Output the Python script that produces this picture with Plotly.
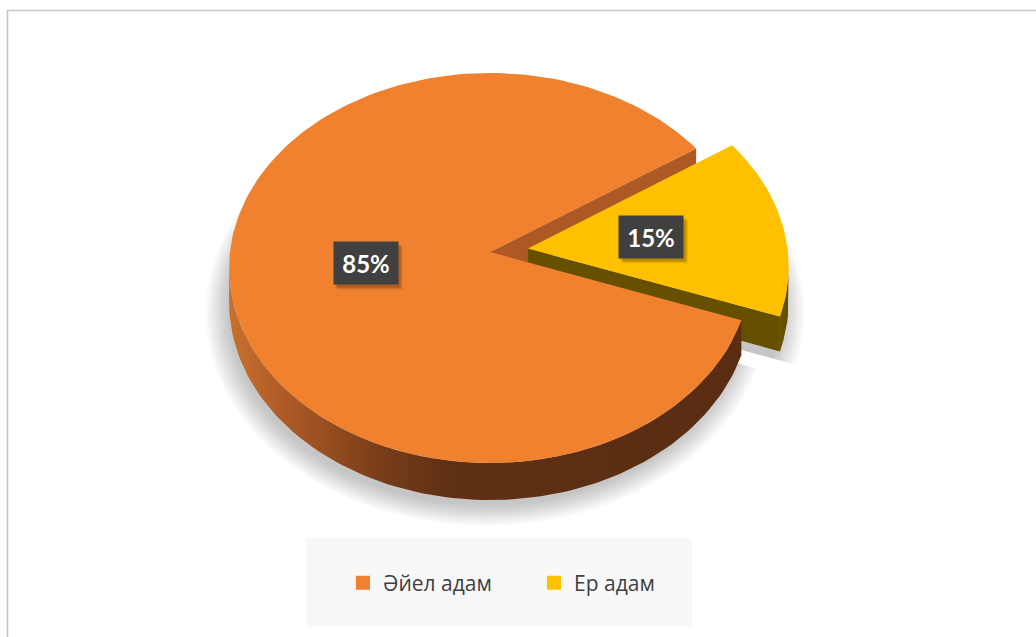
import numpy as np
import plotly.graph_objects as go

# Chart data
CATEGORIES = ["Әйел адам", "Ер адам"]
SHARES = [85, 15]
TOP_COLORS = ["#F0822F", "#FFC000"]
CUT_WALL_COLORS = ["#AE5823", "#665000"]
CURVE_WALL_SCALES = [
    [[0.0, "#C8702F"], [0.1, "#B05C26"], [0.29, "#7A3E1A"], [0.43, "#5E3014"], [1.0, "#5A2C11"]],
    [[0.0, "#6B5400"], [1.0, "#5F4A00"]],
]
EXPLODE = [0.0, 0.147]
FIRST_SLICE_ANGLE = 110  # degrees clockwise from 12 o'clock

# Projection of the tilted 3D disc onto the page (pixel units)
W, H_PX = 1036, 637
CX, CY = 490.0, 252.0
RX, RY = 260.0, 193.7
PERSP = 0.082
DEPTH = 34.0
LABEL_R = 0.48
LABEL_W, LABEL_H = 64, 42


def proj(u, v, depth=0.0):
    u = np.asarray(u, float)
    v = np.asarray(v, float)
    s = 1.0 / (1.0 + PERSP * v)
    return CX + RX * u * s, CY - RY * v * s + DEPTH * depth * s


def arc(a0, a1, n=None):
    n = n or max(4, int(abs(a1 - a0) / 1.5))
    return np.radians(np.linspace(a0, a1, n))


def poly_trace(xs, ys, **kw):
    return go.Scatter(x=np.append(xs, xs[0]), y=np.append(ys, ys[0]), mode="lines",
                      fill="toself", line=dict(width=0), hoverinfo="skip",
                      showlegend=False, **kw)


# Slice angle ranges (math convention, counter-clockwise)
start = 90 - FIRST_SLICE_ANGLE
slices = []
cum = 0.0
for i, share in enumerate(SHARES):
    hi = start - cum * 3.6
    lo = hi - share * 3.6
    cum += share
    lo_n = lo % 360
    hi_n = lo_n + share * 3.6
    mid = np.radians((lo_n + hi_n) / 2)
    du, dv = EXPLODE[i] * np.cos(mid), EXPLODE[i] * np.sin(mid)
    slices.append(dict(lo=lo_n, hi=hi_n, mid=mid, du=du, dv=dv))

fig = go.Figure()

# Soft drop shadow beneath every slice (stacked translucent layers)
for i, s in enumerate(slices):
    th = arc(s["lo"], s["hi"])
    for f in np.linspace(0.99, 1.075, 10):
        us = np.concatenate([[s["du"]], s["du"] + f * np.cos(th)])
        vs = np.concatenate([[s["dv"]], s["dv"] + f * np.sin(th)])
        xs, ys = proj(us, vs, 1.0)
        fig.add_trace(poly_trace(xs - 4, ys + 8, fillcolor="rgba(0,0,0,0.022)"))

# Visible walls, collected with a depth key so farther faces are drawn first
sil = np.degrees(np.arcsin(PERSP))
front = (180 + sil, 360 - sil)
walls = []
for i, s in enumerate(slices):
    du, dv = s["du"], s["dv"]
    # straight cut walls along both slice edges
    for ang, normal in ((s["lo"], s["lo"] - 90), (s["hi"], s["hi"] + 90)):
        if np.sin(np.radians(normal)) >= 0:
            continue
        t = np.radians(ang)
        us = np.array([du, du + np.cos(t), du + np.cos(t), du])
        vs = np.array([dv, dv + np.sin(t), dv + np.sin(t), dv])
        dd = np.array([0, 0, 1, 1])
        xs, ys = proj(us, vs, dd)
        walls.append((vs.mean(), poly_trace(xs, ys, fillcolor=CUT_WALL_COLORS[i])))
    # curved outer wall, front-facing part only
    for off in (0, 360):
        a0 = max(s["lo"], front[0] + off)
        a1 = min(s["hi"], front[1] + off)
        if a1 <= a0:
            continue
        th = arc(a0, a1)
        ut, vt = du + np.cos(th), dv + np.sin(th)
        xt, yt = proj(ut, vt, 0)
        xb, yb = proj(ut, vt, 1)
        xs = np.concatenate([xt, xb[::-1]])
        ys = np.concatenate([yt, yb[::-1]])
        walls.append((vt.mean(), poly_trace(
            xs, ys, fillgradient=dict(type="horizontal", colorscale=CURVE_WALL_SCALES[i]))))

for _, tr in sorted(walls, key=lambda w: -w[0]):
    fig.add_trace(tr)

# Top faces
for i, s in enumerate(slices):
    th = arc(s["lo"], s["hi"])
    us = np.concatenate([[s["du"]], s["du"] + np.cos(th)])
    vs = np.concatenate([[s["dv"]], s["dv"] + np.sin(th)])
    xs, ys = proj(us, vs, 0)
    fig.add_trace(poly_trace(xs, ys, fillcolor=TOP_COLORS[i]))

# Legend entries
for name, col in zip(CATEGORIES, TOP_COLORS):
    fig.add_trace(go.Scatter(x=[None], y=[None], mode="markers", name=name,
                             marker=dict(symbol="square", size=14, color=col)))

# Data labels with a soft offset shadow behind each box
for i, s in enumerate(slices):
    lu = s["du"] + LABEL_R * np.cos(s["mid"])
    lv = s["dv"] + LABEL_R * np.sin(s["mid"])
    lx, ly = proj(lu, lv, 0)
    lx, ly = float(lx), float(ly)
    for k, a in ((5, 0.08), (4, 0.10), (3, 0.12)):
        fig.add_shape(type="rect", xref="x", yref="y", layer="above",
                      x0=lx - LABEL_W / 2 + k - 1, x1=lx + LABEL_W / 2 + k,
                      y0=ly - LABEL_H / 2 + k - 1, y1=ly + LABEL_H / 2 + k,
                      line=dict(width=0), fillcolor=f"rgba(0,0,0,{a})")
    fig.add_annotation(text=f"{SHARES[i]}%", x=lx, y=ly, xref="x", yref="y", showarrow=False,
                       width=LABEL_W, height=LABEL_H, borderpad=0, align="center",
                       valign="middle", bgcolor="#404040",
                       font=dict(size=24, color="#FFFFFF", family="Lato, Open Sans, sans-serif",
                                 weight="bold"))

# Chart frame and legend panel
fig.add_shape(type="rect", xref="x", yref="y", x0=7.5, y0=10.5, x1=1100, y1=700,
              line=dict(color="#C6C6C6", width=1.6), fillcolor="rgba(0,0,0,0)", layer="below")
fig.add_shape(type="rect", xref="x", yref="y", x0=306, y0=538, x1=692, y1=627,
              line=dict(width=0), fillcolor="#F8F8F8", layer="below")

fig.update_layout(
    width=W, height=H_PX,
    margin=dict(l=0, r=0, t=0, b=0),
    paper_bgcolor="white", plot_bgcolor="white",
    xaxis=dict(range=[0, W], visible=False, fixedrange=True),
    yaxis=dict(range=[H_PX, 0], visible=False, fixedrange=True),
    showlegend=True,
    legend=dict(orientation="h", x=343 / W, xanchor="left", y=1 - 583 / H_PX, yanchor="middle",
                bgcolor="rgba(0,0,0,0)", entrywidth=146, entrywidthmode="pixels",
                font=dict(size=21, color="#404040", family="Open Sans, Noto Sans, sans-serif"),
                itemclick=False, itemdoubleclick=False),
)

fig.write_html("out.html")
